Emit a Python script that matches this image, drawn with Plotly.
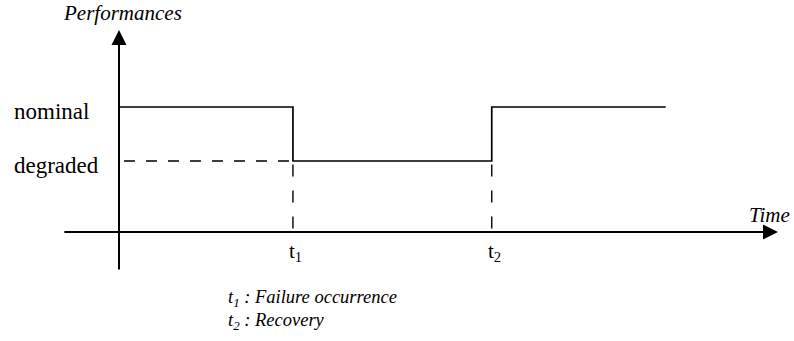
import plotly.graph_objects as go

# ---- data (conceptual units) ----
step_time = [0, 3.5, 7.5, 11]          # change points of the performance signal
step_perf = [2.5, 1.42, 2.5, 2.5]      # performance after each change point (hv step)
nominal = 2.5
degraded = 1.42
t1 = 3.5
t2 = 7.5
level_labels = ["nominal", "degraded"]
level_values = [nominal, degraded]
event_times = [t1, t2]
event_labels = ["t<sub>1</sub>", "t<sub>2</sub>"]
legend_lines = ["<i>t<sub>1</sub> : Failure occurrence</i>", "<i>t<sub>2</sub> : Recovery</i>"]
time_axis = [-1.13, 13.26]
perf_axis = [-0.78, 4.04]

FONT = "Liberation Serif, Times New Roman, serif"

fig = go.Figure()

# step signal
fig.add_trace(go.Scatter(x=step_time, y=step_perf, mode="lines", line_shape="hv",
                         line=dict(color="black", width=1.7), hoverinfo="skip"))
# dashed degraded reference
fig.add_trace(go.Scatter(x=[0.1, t1], y=[degraded, degraded], mode="lines",
                         line=dict(color="black", width=1.4, dash="11px,11px"), hoverinfo="skip"))
# dashed verticals at events
for t in event_times:
    fig.add_trace(go.Scatter(x=[t, t], y=[degraded - 0.07, 0], mode="lines",
                             line=dict(color="black", width=1.4, dash="12px,14px"), hoverinfo="skip"))

annotations = []
# axes as arrows
annotations.append(dict(x=time_axis[1], y=0, ax=time_axis[0], ay=0, xref="x", yref="y",
                        axref="x", ayref="y", text="", showarrow=True, arrowhead=2,
                        arrowsize=1.5, arrowwidth=2, arrowcolor="black"))
annotations.append(dict(x=0, y=perf_axis[1], ax=0, ay=perf_axis[0], xref="x", yref="y",
                        axref="x", ayref="y", text="", showarrow=True, arrowhead=2,
                        arrowsize=1.5, arrowwidth=2, arrowcolor="black"))
# axis titles
annotations.append(dict(x=0, y=perf_axis[1], xref="x", yref="y", text="<i>Performances</i>",
                        showarrow=False, xanchor="center", yanchor="bottom", xshift=3, yshift=3,
                        font=dict(family=FONT, size=21, color="black")))
annotations.append(dict(x=time_axis[1], y=0, xref="x", yref="y", text="<i>Time</i>",
                        showarrow=False, xanchor="right", yanchor="bottom", xshift=14, yshift=3,
                        font=dict(family=FONT, size=21, color="black")))
# level labels
for lab, v in zip(level_labels, level_values):
    annotations.append(dict(x=12 / 794, y=v, xref="paper", yref="y", text=lab,
                            showarrow=False, xanchor="left", yanchor="middle", yshift=-4,
                            font=dict(family=FONT, size=23, color="black")))
# event labels
for lab, t in zip(event_labels, event_times):
    annotations.append(dict(x=t, y=0, xref="x", yref="y", text=lab, showarrow=False,
                            xanchor="left", yanchor="top", xshift=-6, yshift=-5,
                            font=dict(family=FONT, size=21, color="black")))
# legend text
for i, lab in enumerate(legend_lines):
    annotations.append(dict(x=226 / 794, y=1 - (298 + 23 * i) / 341, xref="paper", yref="paper",
                            text=lab, showarrow=False, xanchor="left", yanchor="middle",
                            font=dict(family=FONT, size=18.5, color="black")))

fig.update_layout(
    width=794, height=341,
    margin=dict(l=0, r=0, t=0, b=0),
    paper_bgcolor="white", plot_bgcolor="white",
    showlegend=False,
    xaxis=dict(range=[-119 / 49.7, (794 - 119) / 49.7], visible=False, fixedrange=True),
    yaxis=dict(range=[(232 - 341) / 50, 232 / 50], visible=False, fixedrange=True),
    annotations=annotations,
)

fig.write_html("out.html", config={"displayModeBar": False},
               post_script="document.body.style.margin='0';document.body.style.overflow='hidden';")
